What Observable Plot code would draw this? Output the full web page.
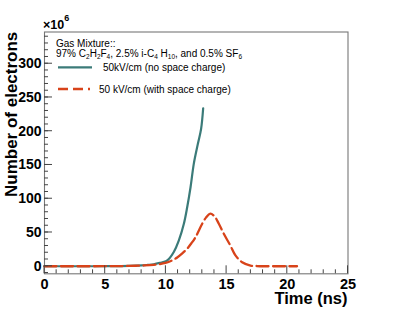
<!DOCTYPE html>
<html>
<head>
<meta charset="utf-8">
<script src="https://cdn.jsdelivr.net/npm/d3@7"></script>
<script src="https://cdn.jsdelivr.net/npm/@observablehq/plot@0.6"></script>
<style>
  html, body { margin: 0; padding: 0; background: white; }
  svg { display: block; }
</style>
</head>
<body>
<div id="chart"></div>
<script>
// Time (ns) and number of electrons (x10^6)
const noSCTime   = [0, 2, 4, 6, 7, 8, 8.5, 9, 9.5, 10, 10.3, 10.65, 11.06, 11.48, 11.75, 12.03, 12.3, 12.63, 12.9, 13.07];
const noSCCount  = [0, 0, 0, 0.2, 0.5, 1.2, 2, 3, 5, 7.5, 12, 21, 38, 63, 87, 117, 152, 181, 203.5, 234];
const withSCTime = [0, 2, 4, 6, 7, 8, 9, 9.97, 10.5, 10.93, 11.35, 11.75, 12.1, 12.44, 12.99, 13.3, 13.65, 14.0, 14.36, 14.77, 15.3, 15.73, 16.28, 16.97, 17.5, 18, 19, 20, 20.8];
const withSCCount= [0, 0, 0, 0.2, 0.5, 1, 2, 5, 8.5, 13, 19, 26, 34, 43, 63, 72, 78, 74, 63, 48, 31, 16, 6, 1, 0.3, 0, 0, 0, 0];

const xMajorTicks = [0, 5, 10, 15, 20, 25];
const xMinorTicks = d3.range(0, 26, 1);
const yMajorTicks = [0, 50, 100, 150, 200, 250, 300];
const yMinorTicks = d3.range(-10, 341, 10);

const xTitle = "Time (ns)";
const yTitle = "Number of electrons";
const seriesNames = ["50kV/cm (no space charge)", "50 kV/cm (with space charge)"];
const tealColor = "#3b7b79";
const redColor = "#d8431a";

const noSC = noSCTime.map((t, i) => ({t, n: noSCCount[i]}));
const withSC = withSCTime.map((t, i) => ({t, n: withSCCount[i]}));

const font = "'Liberation Sans', Arial, Helvetica, sans-serif";

const W = 394, H = 309, ML = 44, MR = 46.5, MT = 31.5, MB = 35.7;

const chart = Plot.plot({
  width: W,
  height: H,
  marginLeft: ML,
  marginRight: MR,
  marginTop: MT,
  marginBottom: MB,
  style: {fontFamily: font, background: "white", color: "black"},
  x: {domain: [0, 25]},
  y: {domain: [-11.2, 347]},
  marks: [
    Plot.frame({stroke: "#777", strokeWidth: 1.1}),
    Plot.axisX({ticks: xMajorTicks, tickSize: 0, tickPadding: 4.5, label: null, fontSize: 14.5, fontWeight: "bold", fill: "black"}),
    Plot.axisY({ticks: yMajorTicks, tickSize: 0, tickPadding: 3, label: null, fontSize: 14, fontWeight: "bold", fill: "black"}),
    Plot.line(noSC, {x: "t", y: "n", stroke: tealColor, strokeWidth: 2.2, curve: "catmull-rom"}),
    Plot.line(withSC, {x: "t", y: "n", stroke: redColor, strokeWidth: 2.3, strokeDasharray: "12,4.5", curve: "catmull-rom"})
  ]
});

document.getElementById("chart").appendChild(chart);

const svg = d3.select(chart);
const xs = chart.scale("x"), ys = chart.scale("y");
const x0 = xs.range[0], yBottom = ys.range[0];

// inward ticks (ROOT style) placed through the plot's own scales
const tg = svg.append("g").attr("stroke", "#444").attr("stroke-width", 1);
const tickLine = (x1, y1, x2, y2) => tg.append("line").attr("x1", x1).attr("y1", y1).attr("x2", x2).attr("y2", y2);
xMinorTicks.forEach(v => { const px = xs.apply(v); tickLine(px, yBottom, px, yBottom - (xMajorTicks.includes(v) ? 8 : 4)); });
yMinorTicks.forEach(v => { const py = ys.apply(v); tickLine(x0, py, x0 + 4, py); });
yMajorTicks.forEach(v => { const py = ys.apply(v); tickLine(x0, py, x0 + 8, py); });

const g = svg.append("g").attr("font-family", font).attr("fill", "black").attr("text-anchor", "start");

// exponent label
const ex = g.append("text").attr("x", 43).attr("y", 28.5).attr("font-size", 12.5).attr("font-weight", "bold");
ex.append("tspan").text("\u00d710");
ex.append("tspan").attr("dy", -7.5).attr("font-size", 9).text("6");

// axis titles
g.append("text").attr("x", 347.5).attr("y", 303.5).attr("text-anchor", "end")
  .attr("font-size", 16.5).attr("font-weight", "bold").text(xTitle);
g.append("text").attr("transform", "translate(16.5,31.7) rotate(-90)").attr("text-anchor", "end")
  .attr("font-size", 17).attr("font-weight", "bold").text(yTitle);

// header text
g.append("text").attr("x", 56).attr("y", 46.5).attr("font-size", 10).text("Gas Mixture::");
const parts = [["97% C", 0], ["2", 1], ["H", 0], ["2", 1], ["F", 0], ["4", 1], [", 2.5% i-C", 0], ["4", 1], [" H", 0], ["10", 1], [", and 0.5% SF", 0], ["6", 1]];
const l2 = g.append("text").attr("x", 56).attr("y", 56.5).attr("font-size", 10);
let prev = 0;
parts.forEach(([s, sub]) => {
  const ts = l2.append("tspan").text(s);
  const dy = (sub ? 2.5 : 0) - (prev ? 2.5 : 0);
  if (dy) ts.attr("dy", dy);
  if (sub) ts.attr("font-size", 6.5);
  prev = sub;
});

// legend
g.append("line").attr("x1", 58).attr("x2", 92).attr("y1", 67.3).attr("y2", 67.3)
  .attr("stroke", tealColor).attr("stroke-width", 2.2);
g.append("text").attr("x", 103).attr("y", 70.5).attr("font-size", 10).text(seriesNames[0]);
g.append("line").attr("x1", 58).attr("x2", 90).attr("y1", 89).attr("y2", 89)
  .attr("stroke", redColor).attr("stroke-width", 2.3).attr("stroke-dasharray", "10,5");
g.append("text").attr("x", 99).attr("y", 92.5).attr("font-size", 10).text(seriesNames[1]);
</script>
</body>
</html>
